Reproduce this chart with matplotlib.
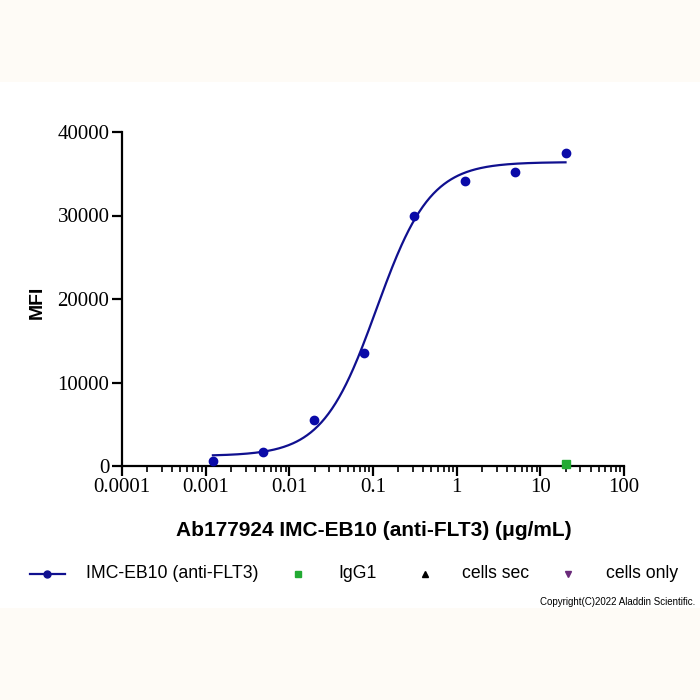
import numpy as np
import matplotlib
matplotlib.use("Agg")
import matplotlib.pyplot as plt
from matplotlib.patches import Rectangle
from matplotlib.lines import Line2D

# ---- data ----
conc = [0.00122, 0.00488, 0.0195, 0.078, 0.3125, 1.25, 5.0, 20.0]
mfi = [600, 1700, 5500, 13500, 30000, 34100, 35200, 37500]
igg1_conc = [20.0]
igg1_mfi = [200]
# 4PL fit parameters (bottom, top, EC50, hill)
fit_bottom, fit_top, fit_ec50, fit_hill = 1200, 36400, 0.11, 1.35

x_ticks = [0.0001, 0.001, 0.01, 0.1, 1, 10, 100]
x_tick_labels = ["0.0001", "0.001", "0.01", "0.1", "1", "10", "100"]
y_ticks = [0, 10000, 20000, 30000, 40000]
y_tick_labels = ["0", "10000", "20000", "30000", "40000"]

legend_labels = ["IMC-EB10 (anti-FLT3)", "IgG1", "cells sec", "cells only"]

navy = "#10108f"
green = "#22aa33"
purple = "#6a2a7a"
W = 700.0

fig = plt.figure(figsize=(7, 7), dpi=100)
fig.patch.set_facecolor("white")
cream = "#fefbf6"
fig.patches.append(Rectangle((0, 1 - 82 / W), 1, 82 / W, transform=fig.transFigure,
                             facecolor=cream, edgecolor="none", zorder=0))
fig.patches.append(Rectangle((0, 0), 1, 92 / W, transform=fig.transFigure,
                             facecolor=cream, edgecolor="none", zorder=0))

ax = fig.add_axes([122 / W, 1 - 466 / W, (624 - 122) / W, (466 - 132) / W])
ax.set_facecolor("none")

xs = np.logspace(np.log10(conc[0]), np.log10(conc[-1]), 300)
ys = fit_bottom + (fit_top - fit_bottom) / (1 + (fit_ec50 / xs) ** fit_hill)
ax.plot(xs, ys, color=navy, lw=1.6, zorder=3)
ax.plot(conc, mfi, "o", color="#0a0aa8", ms=6, zorder=4)
ax.plot(igg1_conc, igg1_mfi, "s", color=green, ms=6, zorder=4, clip_on=False)

ax.set_xscale("log")
ax.set_xlim(x_ticks[0], x_ticks[-1])
ax.set_ylim(0, 40000)
ax.set_xticks(x_ticks)
ax.set_xticklabels(x_tick_labels)
ax.set_yticks(y_ticks)
ax.set_yticklabels(y_tick_labels)
ax.xaxis.set_minor_locator(matplotlib.ticker.LogLocator(base=10, subs=np.arange(2, 10)))
ax.xaxis.set_minor_formatter(matplotlib.ticker.NullFormatter())

for s in ["top", "right"]:
    ax.spines[s].set_visible(False)
for s in ["left", "bottom"]:
    ax.spines[s].set_linewidth(1.6)
ax.tick_params(axis="both", which="major", direction="out", length=7, width=1.6,
               labelsize=15, pad=2)
ax.tick_params(axis="x", which="minor", direction="out", length=4, width=1.2)
for lab in ax.get_xticklabels() + ax.get_yticklabels():
    lab.set_fontfamily("Liberation Serif")

fig.text(374 / W, 1 - 530 / W, "Ab177924 IMC-EB10 (anti-FLT3) (μg/mL)",
         ha="center", va="center", fontsize=15, fontweight="bold", family="Liberation Sans")
fig.text(37 / W, 1 - 302 / W, "MFI", ha="center", va="center", rotation=90,
         fontsize=14, fontweight="bold", family="Liberation Sans")

# legend, laid out as in the reference
ly = 1 - 574 / W
fig.add_artist(Line2D([30 / W, 65 / W], [ly, ly], transform=fig.transFigure, color=navy, lw=1.6))
fig.add_artist(Line2D([47.5 / W], [ly], transform=fig.transFigure, marker="o", color=navy, ms=5))
fig.add_artist(Line2D([298 / W], [ly], transform=fig.transFigure, marker="s", color=green, ms=5,
                      linestyle="none"))
fig.add_artist(Line2D([425 / W], [ly], transform=fig.transFigure, marker="^", color="black", ms=5,
                      linestyle="none"))
fig.add_artist(Line2D([568 / W], [ly], transform=fig.transFigure, marker="v", color=purple, ms=5,
                      linestyle="none"))
for xpos, lab in zip([86, 338, 462, 606], legend_labels):
    fig.text(xpos / W, ly, lab, ha="left", va="center", fontsize=12.7, family="Liberation Sans")

fig.text(695 / W, 1 - 602 / W, "Copyright(C)2022 Aladdin Scientific.", ha="right",
         va="center", fontsize=7, family="Liberation Sans")

fig.savefig("out.png", dpi=100)
